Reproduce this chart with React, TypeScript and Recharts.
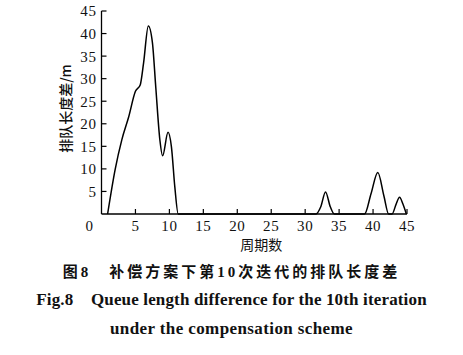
import { LineChart, Line, XAxis, YAxis, Label } from 'recharts'

// cycle number vs. queue length difference (m)
const cycles = [0.9, 2, 3, 4, 5, 5.7, 6.2, 6.9, 7.5, 8, 8.6, 9, 9.8, 10.3, 10.8, 11.3, 31.6, 32.3, 33, 33.7, 34.3, 38.75, 39.7, 40.7, 41.6, 42.3, 42.8, 43.4, 43.9, 44.4, 44.9]
const queueDiff = [0, 9.8, 16.5, 21.5, 27.2, 28.6, 33.5, 41.7, 38, 28, 16.4, 12.9, 18.1, 14.9, 6, 0, 0, 1.6, 4.9, 1.6, 0, 0, 4.5, 9.2, 4, 0, 0, 2.2, 3.7, 2.2, 0]

const xTicks = [0, 5, 10, 15, 20, 25, 30, 35, 40, 45]
const yTicks = [0, 5, 10, 15, 20, 25, 30, 35, 40, 45]

const data = cycles.map((c, i) => ({ cycle: c, diff: queueDiff[i] }))

const tickFont = { fontFamily: '"Liberation Serif", serif', fontSize: 15, letterSpacing: 0.6 }

function YTick(props: any) {
  const { x, y, payload } = props
  if (payload.value === 0) return null
  return (
    <g>
      <line x1={x + 5} x2={x + 10} y1={y} y2={y} stroke="#000" strokeWidth={1.2} />
      <text x={x} y={y} dy="0.36em" textAnchor="end" fill="#111" {...tickFont}>
        {payload.value}
      </text>
    </g>
  )
}

function XTick(props: any) {
  const { x, y, payload } = props
  if (payload.value === 0) {
    return (
      <text x={x - 12} y={y} dy="0.71em" textAnchor="middle" fill="#111" {...tickFont}>
        0
      </text>
    )
  }
  return (
    <g>
      <line x1={x} x2={x} y1={y - 6} y2={y - 11} stroke="#000" strokeWidth={1.2} />
      <text x={x} y={y} dy="0.71em" textAnchor="middle" fill="#111" {...tickFont}>
        {payload.value}
      </text>
    </g>
  )
}

export default function App() {
  return (
    <div style={{ width: 463, height: 355, background: '#fff' }}>
      <style>{'body{margin:0}'}</style>
      <LineChart width={463} height={258} data={data} margin={{ top: 11, right: 56, bottom: 6, left: 0 }}>
        <XAxis
          type="number"
          dataKey="cycle"
          domain={[0, 45]}
          ticks={xTicks}
          tickSize={0}
          tickMargin={6}
          tickLine={false}
          height={38}
          axisLine={{ stroke: '#000', strokeWidth: 1.3 }}
          tick={<XTick />}
          interval={0}
        >
          <Label
            value="周期数"
            position="insideBottom"
            offset={2}
            dx={7}
            style={{ fontFamily: '"Noto Sans CJK SC", sans-serif', fontSize: 14, fill: '#111' }}
          />
        </XAxis>
        <YAxis
          type="number"
          domain={[0, 45]}
          ticks={yTicks}
          width={101.5}
          tickSize={0}
          tickMargin={5}
          tickLine={false}
          axisLine={{ stroke: '#000', strokeWidth: 1.3 }}
          tick={<YTick />}
          interval={0}
        >
          <Label
            value="排队长度差/m"
            angle={-90}
            position="insideLeft"
            offset={66}
            dy={-4}
            style={{ textAnchor: 'middle', fontFamily: '"Noto Sans CJK SC", sans-serif', fontSize: 14, fontWeight: 500, fill: '#111' }}
          />
        </YAxis>
        <Line
          type="monotone"
          dataKey="diff"
          stroke="#000"
          strokeWidth={1.5}
          dot={false}
          isAnimationActive={false}
        />
      </LineChart>
      <div style={{ marginTop: 0, textAlign: 'center', color: '#111' }}>
        <div style={{ lineHeight: '28px', fontFamily: '"Liberation Serif", "Noto Sans CJK SC", serif', fontWeight: 'bold', fontSize: 15, letterSpacing: 3 }}>
          图8　补偿方案下第10次迭代的排队长度差
        </div>
        <div style={{ lineHeight: '28px', fontFamily: '"Liberation Serif", serif', fontWeight: 'bold', fontSize: 17, letterSpacing: 0.15, whiteSpace: 'pre' }}>
          {'Fig.8    Queue length difference for the 10th iteration'}
        </div>
        <div style={{ lineHeight: '29px', fontFamily: '"Liberation Serif", serif', fontWeight: 'bold', fontSize: 17, letterSpacing: 0.4 }}>
          under the compensation scheme
        </div>
      </div>
    </div>
  )
}
